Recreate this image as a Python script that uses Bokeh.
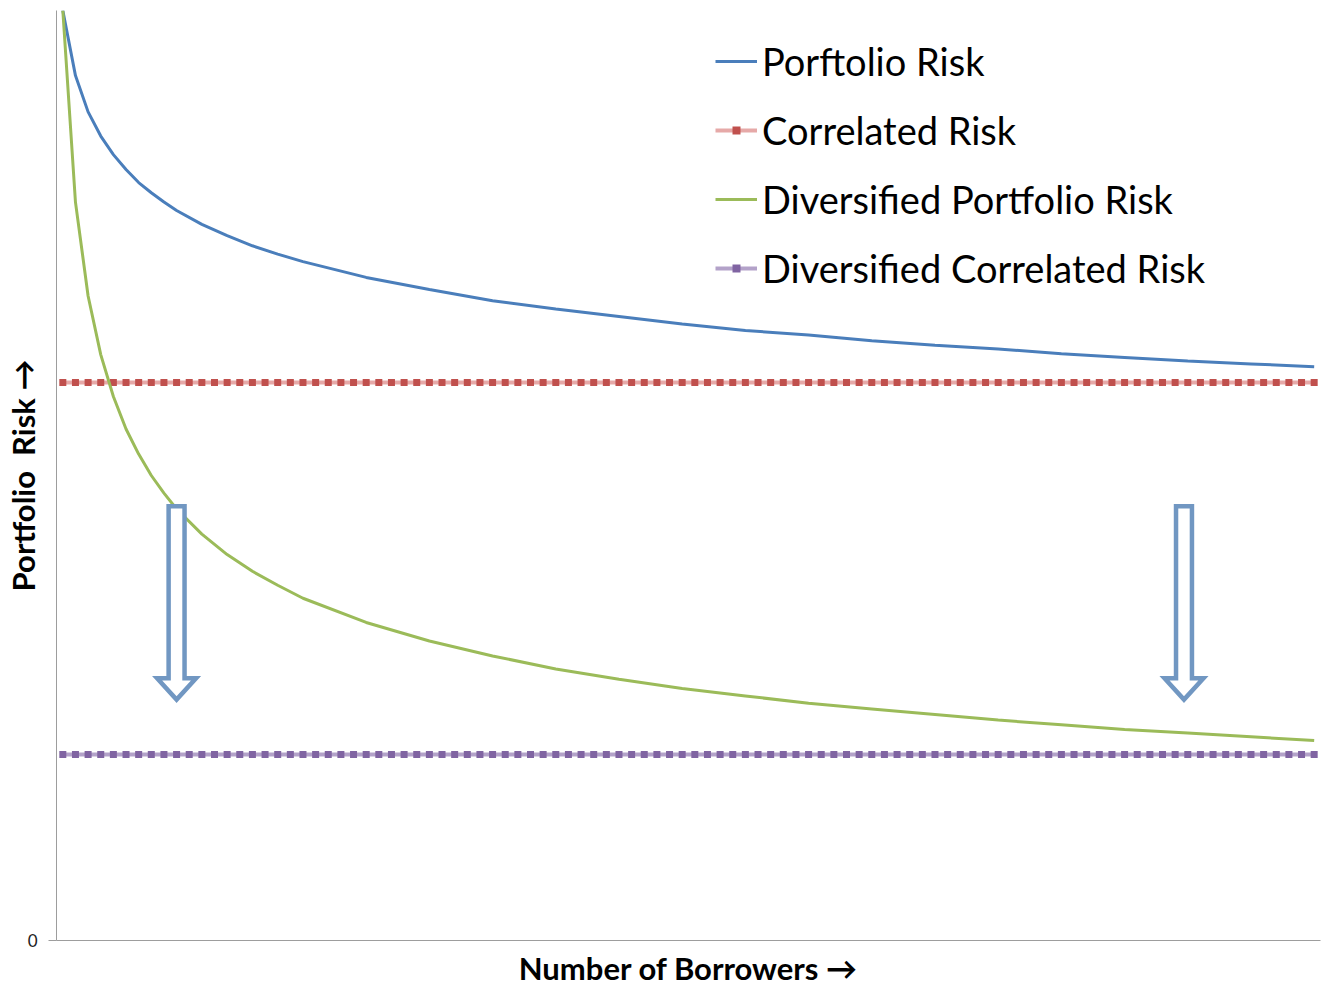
from bokeh.plotting import figure
from bokeh.models import Range1d, FixedTicker, Legend, LegendItem
from bokeh.embed import file_html
from bokeh.resources import INLINE

# Number of borrowers at which the two risk curves are sampled
curve_borrowers = [1, 2, 3, 4, 5, 6, 7, 8, 9, 10, 12, 14, 16, 18, 20,
                   25, 30, 35, 40, 45, 50, 55, 60, 65, 70, 75, 80, 85, 90, 95, 100]
portfolio_risk = [100.0, 93.0, 89.1, 86.5, 84.5, 82.9, 81.5, 80.4, 79.4, 78.5, 77.0,
                  75.8, 74.7, 73.8, 73.0, 71.3, 70.0, 68.8, 67.9, 67.1, 66.3, 65.6,
                  65.1, 64.5, 64.0, 63.6, 63.1, 62.7, 62.3, 62.0, 61.7]
diversified_portfolio_risk = [100.0, 79.4, 69.3, 63.0, 58.5, 55.0, 52.3, 50.0, 48.1, 46.4,
                              43.7, 41.5, 39.7, 38.2, 36.8, 34.2, 32.2, 30.6, 29.2, 28.1,
                              27.1, 26.3, 25.5, 24.9, 24.3, 23.7, 23.2, 22.7, 22.3, 21.9, 21.5]

# Flat (systematic) risk levels, plotted at every borrower count
borrowers = list(range(1, 101))
CORRELATED_RISK = 60.0
DIVERSIFIED_CORRELATED_RISK = 20.0
correlated_risk = [CORRELATED_RISK] * len(borrowers)
diversified_correlated_risk = [DIVERSIFIED_CORRELATED_RISK] * len(borrowers)

FONT = "Lato"

p = figure(width=1321, height=990, output_backend="svg", toolbar_location=None,
           x_range=Range1d(0.5, 100.5), y_range=Range1d(0, 100),
           min_border_left=55, min_border_right=1, min_border_top=10, min_border_bottom=50)
p.background_fill_color = "white"
p.border_fill_color = "white"
p.outline_line_color = None
p.xgrid.visible = False
p.ygrid.visible = False

AXIS_GRAY = "#9D9D9D"

# x axis: a bare line with a title
p.xaxis.ticker = FixedTicker(ticks=[])
p.xaxis.axis_line_color = AXIS_GRAY
p.xaxis.major_tick_out = 0
p.xaxis.minor_tick_out = 0
p.xaxis.axis_label = "Number of Borrowers \u2192"
p.xaxis.axis_label_text_font = FONT
p.xaxis.axis_label_text_font_style = "bold"
p.xaxis.axis_label_text_font_size = "31px"
p.xaxis.axis_label_text_color = "black"
p.xaxis.axis_label_standoff = 8

# y axis: only the zero tick is labelled
p.yaxis.ticker = FixedTicker(ticks=[0])
p.yaxis.axis_line_color = AXIS_GRAY
p.yaxis.major_tick_line_color = AXIS_GRAY
p.yaxis.major_tick_out = 8
p.yaxis.major_tick_in = 0
p.yaxis.minor_tick_out = 0
p.yaxis.major_label_standoff = 11
p.yaxis.major_label_text_font = FONT
p.yaxis.major_label_text_font_size = "17px"
p.yaxis.major_label_text_color = "#222222"
p.yaxis.axis_label = "Portfolio\u00a0\u00a0Risk \u2192"
p.yaxis.axis_label_text_font = FONT
p.yaxis.axis_label_text_font_style = "bold"
p.yaxis.axis_label_text_font_size = "31px"
p.yaxis.axis_label_text_color = "black"
p.yaxis.axis_label_standoff = -17

BLUE = "#4A7EBB"
GREEN = "#9BBB59"
RED = "#C0504D"
RED_LINE = "#E6A9A8"
PURPLE = "#8064A2"
PURPLE_LINE = "#B3A2C9"

r_port = p.line(curve_borrowers, portfolio_risk, line_color=BLUE, line_width=3)

r_corr_line = p.line(borrowers, correlated_risk, line_color=RED_LINE, line_width=4)
r_corr_mark = p.scatter(borrowers, correlated_risk, marker="square", size=7,
                        fill_color=RED, line_color=None)

r_div = p.line(curve_borrowers, diversified_portfolio_risk, line_color=GREEN, line_width=3)

r_dcorr_line = p.line(borrowers, diversified_correlated_risk, line_color=PURPLE_LINE, line_width=4)
r_dcorr_mark = p.scatter(borrowers, diversified_correlated_risk, marker="square", size=7,
                         fill_color=PURPLE, line_color=None)


def block_arrow(cx, top, head_base, tip, shaft_half, head_half):
    xs = [cx - shaft_half, cx + shaft_half, cx + shaft_half, cx + head_half,
          cx, cx - head_half, cx - shaft_half]
    ys = [top, top, head_base, head_base, tip, head_base, head_base]
    return xs, ys


ARROW_COLOR = "#7197C2"
for cx in (10.0, 89.7):
    ax, ay = block_arrow(cx, 46.7, 28.2, 25.9, 0.63, 1.54)
    p.patch(ax, ay, fill_color="white", line_color=ARROW_COLOR, line_width=4.5,
            line_join="miter")

legend = Legend(items=[
    LegendItem(label="Porftolio Risk", renderers=[r_port]),
    LegendItem(label="Correlated Risk", renderers=[r_corr_line, r_corr_mark]),
    LegendItem(label="Diversified Portfolio Risk", renderers=[r_div]),
    LegendItem(label="Diversified Correlated Risk", renderers=[r_dcorr_line, r_dcorr_mark]),
], location=(659, 649))
legend.border_line_color = None
legend.background_fill_alpha = 0
legend.label_text_font = FONT
legend.label_text_font_size = "38px"
legend.label_text_color = "black"
legend.glyph_width = 42
legend.glyph_height = 20
legend.label_standoff = 5
legend.spacing = 23
legend.padding = 10
legend.margin = 0
p.add_layout(legend)

open("out.html", "w").write(file_html(p, INLINE))
